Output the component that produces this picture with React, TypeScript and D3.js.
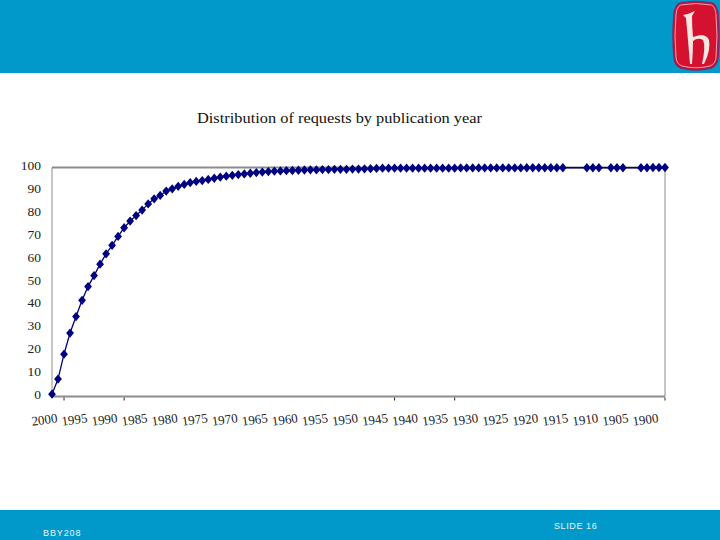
import React from "react";
import * as d3 from "d3";

const title = "Distribution of requests by publication year";
const footerLeft = "BBY208";
const footerRight = "SLIDE 16";

// publication years, newest first (gaps = years without requests)
const missingYears = [1914, 1913, 1912, 1908, 1904, 1903];
const allYears = d3.range(2000, 1897, -1);
const years = allYears.filter((y) => !missingYears.includes(y));

// cumulative percentage of requests
const cumulative = [
  1, 7.6, 18.5, 27.7, 34.9, 42, 48, 52.8, 57.8, 62.3,
  66, 69.9, 73.7, 76.6, 79, 81.4, 84.1, 86.3, 87.8, 89.7,
  90.7, 91.8, 92.6, 93.4, 93.9, 94.3, 94.8, 95.3, 95.8, 96.2,
  96.6, 96.9, 97.2, 97.5, 97.8, 98, 98.2, 98.4, 98.5, 98.6,
  98.7, 98.8, 98.9, 99, 99, 99.1, 99.1, 99.2, 99.2, 99.2,
  99.3, 99.3, 99.4, 99.5, 99.6, 99.7, 99.7, 99.7, 99.7, 99.7,
  99.7, 99.7, 99.7, 99.7, 99.7, 99.7, 99.7, 99.7, 99.8, 99.8,
  99.8, 99.8, 99.8, 99.8, 99.8, 99.8, 99.8, 99.8, 99.8, 99.9,
  99.9, 99.9, 99.9, 99.9, 99.9, 99.9,
  99.9, 99.9, 99.9, 99.9, 99.9, 99.9,
  99.9, 99.9, 100, 100, 100,
];

const yTicks = d3.range(0, 101, 10);
const xTickYears = [1998, 1988, 1943, 1933, 1898];
const labelYears = d3.range(2000, 1899, -5);

const x = d3.scaleLinear().domain([2000, 1898]).range([52, 665]);
const y = d3.scaleLinear().domain([0, 100]).range([396.5, 167.5]);
const labelX = d3.scaleLinear().domain([2000, 1900]).range([45, 646]);

const BLUE = "#0099c9";
const NAVY = "#000080";
const GREY = "#8c8c8c";
const SERIF = "'Liberation Serif', serif";

const points = years.map((yr, i) => ({ yr, v: cumulative[i] }));
const linePath = d3.line<{ yr: number; v: number }>()
  .x((d) => x(d.yr))
  .y((d) => y(d.v))(points) as string;
const marker = d3.symbol(d3.symbolDiamond, 25)() as string;

export default function App() {
  return (
    <svg width={720} height={540} style={{ position: "absolute", left: 0, top: 0, background: "#fff" }}>
      <rect x={0} y={0} width={720} height={73} fill={BLUE} />
      <rect x={0} y={510} width={720} height={30} fill={BLUE} />

      {/* logo */}
      <path d="M680 3 Q696 0 712 3 Q717 5 718 14 Q720 36 718 58 Q717 66 711 68 Q696 72 681 68 Q675 66 674 58 Q672 36 674 14 Q675 5 680 3Z"
        fill="#d4112f" stroke="#7d2a6a" strokeWidth={1.5} />
      <path d="M680.5 5 Q696 2 711.5 5 Q715.5 7 716 15 Q718 36 716 57 Q715.5 64 710 66 Q696 69.5 682 66 Q676.5 64 676 57 Q674 36 676 15 Q676.5 7 680.5 5Z"
        fill="none" stroke="#f3c4c8" strokeWidth={0.8} />
      <path d="M695 11 Q689 14 683 15 L686 18 Q688 40 690 64 L692 64 Q693 52 693 41 Q698 37 703 40 Q706 46 702 64 L704 64 Q711 50 709 40 Q707 35 700 35 L693 37 Q692 27 692 16 Z"
        fill="#f8e6e2" />

      <text x={197} y={123} fontFamily={SERIF} fontSize={15.5} textLength={285} lengthAdjust="spacingAndGlyphs" fill="#111">{title}</text>

      {/* plot frame */}
      <path d={`M${x(2000)} ${y(0)}V${y(100)}M${x(1898)} ${y(100)}V${y(0)}`} fill="none" stroke={GREY} strokeWidth={1} />
      <line x1={x(2000)} x2={x(1898)} y1={y(0)} y2={y(0)} stroke={GREY} strokeWidth={2} />
      <line x1={x(2000)} x2={x(1898)} y1={y(100)} y2={y(100)} stroke={GREY} strokeWidth={2} />

      {xTickYears.map((yr) => (
        <line key={yr} x1={x(yr)} x2={x(yr)} y1={y(0) + 1} y2={y(0) + 4} stroke="#222" strokeWidth={1} />
      ))}

      {yTicks.map((t) => (
        <text key={t} x={41} y={y(t) + 2.5} textAnchor="end" fontFamily={SERIF} fontSize={13.5} fill="#222">{t}</text>
      ))}

      {labelYears.map((yr) => (
        <text key={yr} transform={`translate(${labelX(yr)},424) rotate(-8)`} textAnchor="middle" fontFamily={SERIF} fontSize={13} fill="#222">{yr}</text>
      ))}

      <path d={linePath} fill="none" stroke={NAVY} strokeWidth={1.3} />
      {points.map((d) => (
        <path key={d.yr} d={marker} transform={`translate(${x(d.yr)},${y(d.v)}) scale(1.45,1)`} fill={NAVY} />
      ))}

      <text x={43} y={536} fontFamily="'Liberation Sans', sans-serif" fontSize={9} letterSpacing={0.9} fill="#e8f6fb">{footerLeft}</text>
      <text x={554} y={529} fontFamily="'Liberation Sans', sans-serif" fontSize={9} letterSpacing={0.6} fill="#e8f6fb">{footerRight}</text>
    </svg>
  );
}
